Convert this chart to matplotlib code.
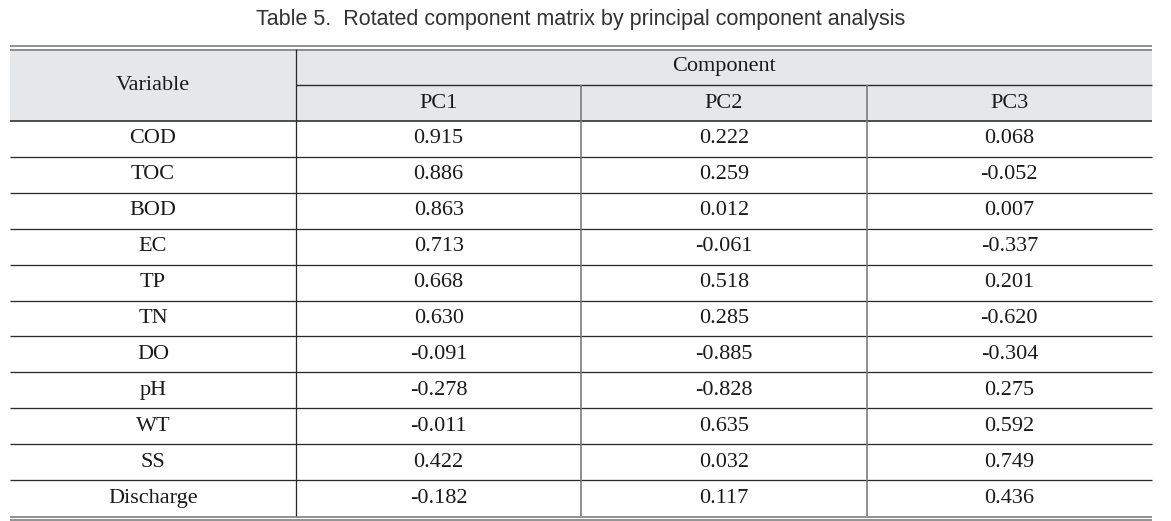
import matplotlib
matplotlib.use("Agg")
import matplotlib.pyplot as plt
from matplotlib.patches import Rectangle

# ===============================
# Data
# ===============================
title = "Table 5.  Rotated component matrix by principal component analysis"
variables = ["COD", "TOC", "BOD", "EC", "TP", "TN", "DO", "pH", "WT", "SS", "Discharge"]
components = ["PC1", "PC2", "PC3"]
pc1 = ["0.915", "0.886", "0.863", "0.713", "0.668", "0.630", "-0.091", "-0.278", "-0.011", "0.422", "-0.182"]
pc2 = ["0.222", "0.259", "0.012", "-0.061", "0.518", "0.285", "-0.885", "-0.828", "0.635", "0.032", "0.117"]
pc3 = ["0.068", "-0.052", "0.007", "-0.337", "0.201", "-0.620", "-0.304", "0.275", "0.592", "0.749", "0.436"]

# ===============================
# Layout (pixels)
# ===============================
W, H = 1171, 521
x_left, x_var, x_right = 10, 296, 1152
col_w = (x_right - x_var) / 3
y_top = 49
y_head1 = 85
y_head2 = 121
y_bottom = 516
row_h = (y_bottom - y_head2) / len(variables)

fig = plt.figure(figsize=(W / 100, H / 100), dpi=100)
ax = fig.add_axes([0, 0, 1, 1])
ax.set_xlim(0, W)
ax.set_ylim(H, 0)
ax.axis("off")

serif = "Liberation Serif"
fs = 16
txt_c = "#1a1a1a"
line_c = "#2b2b2b"
px = 0.72  # 1 pixel in points

# header background
ax.add_patch(Rectangle((x_left, y_top), x_right - x_left, y_head2 - y_top,
                       facecolor="#e6e7e9", edgecolor="none", zorder=0))

# title
ax.text((x_left + x_right) / 2, 19, title, ha="center", va="center",
        fontsize=15.5, family="Liberation Sans", color="#333333")

# double lines top and bottom
for y in [45.5, 49.5]:
    ax.hlines(y, x_left, x_right, color="#7a7a7a", lw=1.6 * px)
for y in [516.5, 520]:
    ax.hlines(y, x_left, x_right, color="#7a7a7a", lw=1.6 * px)

# header lines
ax.hlines(y_head1, x_var, x_right, color=line_c, lw=1.4 * px)
ax.hlines(y_head2, x_left, x_right, color=line_c, lw=1.6 * px)

# row lines
for i in range(1, len(variables)):
    ax.hlines(y_head2 + i * row_h, x_left, x_right, color=line_c, lw=1.3 * px)

# vertical lines
ax.vlines(x_var, y_top, y_bottom, color=line_c, lw=1.3 * px)
for j in [1, 2]:
    ax.vlines(x_var + j * col_w, y_head1, y_bottom, color="#777777", lw=1.6 * px)

# header text
ax.text((x_left + x_var) / 2, (y_top + y_head2) / 2, "Variable",
        ha="center", va="center", fontsize=fs, family=serif, color=txt_c)
ax.text((x_var + x_right) / 2, (y_top + y_head1) / 2, "Component",
        ha="center", va="center", fontsize=fs, family=serif, color=txt_c)
for j, c in enumerate(components):
    ax.text(x_var + (j + 0.5) * col_w, (y_head1 + y_head2) / 2, c,
            ha="center", va="center", fontsize=fs, family=serif, color=txt_c)

# body
for i, v in enumerate(variables):
    yc = y_head2 + (i + 0.5) * row_h
    ax.text((x_left + x_var) / 2, yc, v, ha="center", va="center",
            fontsize=fs, family=serif, color=txt_c)
    for j, col in enumerate([pc1, pc2, pc3]):
        ax.text(x_var + (j + 0.5) * col_w, yc, col[i], ha="center", va="center",
                fontsize=fs, family=serif, color=txt_c)

fig.savefig("out.png", dpi=100)
